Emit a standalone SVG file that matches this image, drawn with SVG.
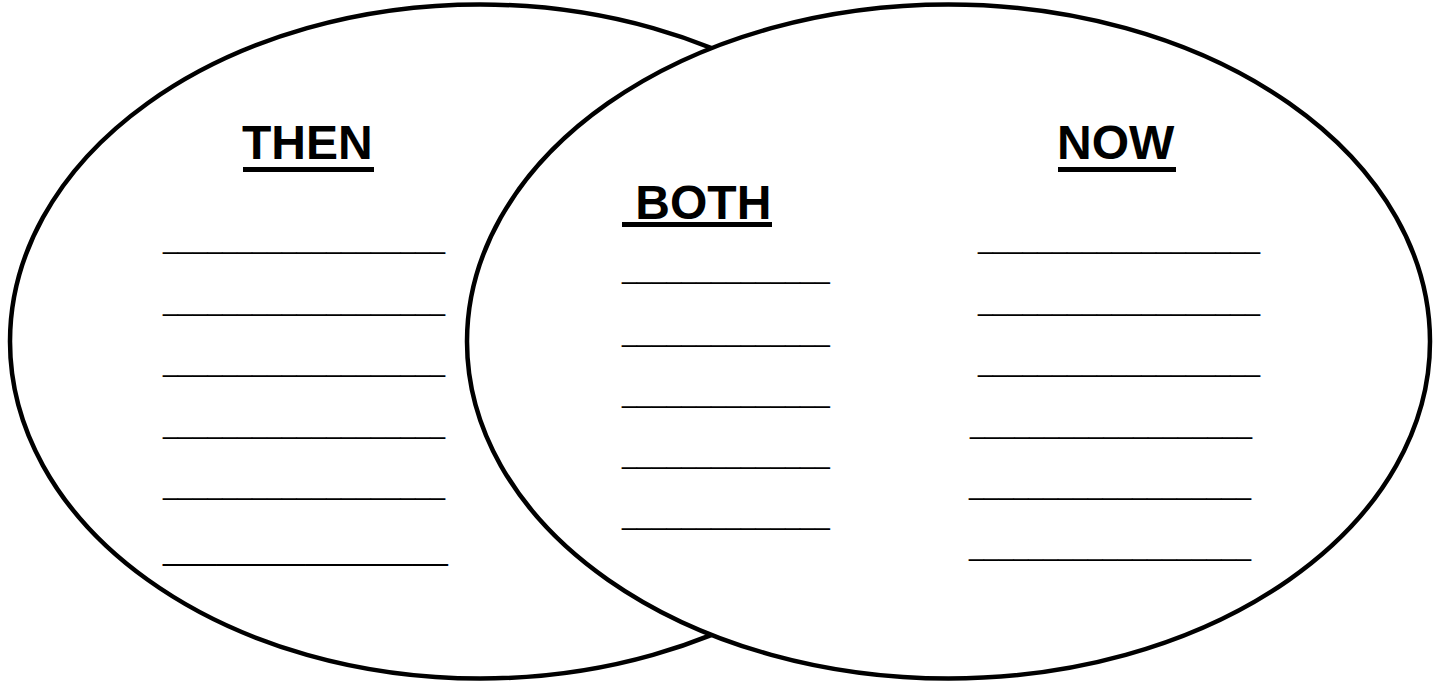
<svg xmlns="http://www.w3.org/2000/svg" width="1437" height="682" viewBox="0 0 1437 682">
<style>
.ell{fill:#fff;stroke:#000;stroke-width:4.5}
.hd{font-family:"Liberation Sans",Arial,sans-serif;font-weight:bold;font-size:48px;fill:#000;white-space:pre}
.ul{fill:#000}
.ln{font-family:"Liberation Sans",Arial,sans-serif;font-size:26.7px;fill:#000}
.lnb{font-family:"Liberation Sans",Arial,sans-serif;font-size:32px;fill:#000}
</style>
<rect width="1437" height="682" fill="#fff"/>
<g id="then-circle">
<ellipse class="ell" cx="480" cy="341.5" rx="470" ry="337"/>
</g>
<g id="now-circle">
<ellipse class="ell" cx="948.5" cy="341.5" rx="481.5" ry="337"/>
</g>
<g id="then">
<text class="hd" x="242" y="159">THEN</text>
<rect class="ul" x="243" y="167" width="131" height="5"/>
<text class="ln" x="163" y="249">___________________</text>
<text class="ln" x="163" y="311">___________________</text>
<text class="ln" x="163" y="372">___________________</text>
<text class="ln" x="163" y="434">___________________</text>
<text class="ln" x="163" y="495">___________________</text>
<text class="lnb" x="163" y="560">________________</text>
</g>
<g id="both">
<text class="hd" x="622" y="219" xml:space="preserve"> BOTH</text>
<rect class="ul" x="622" y="222" width="150" height="5"/>
<text class="ln" x="622" y="279">______________</text>
<text class="ln" x="622" y="342">______________</text>
<text class="ln" x="622" y="403">______________</text>
<text class="ln" x="622" y="464">______________</text>
<text class="ln" x="622" y="525">______________</text>
</g>
<g id="now">
<text class="hd" x="1057" y="159">NOW</text>
<rect class="ul" x="1058" y="167" width="118" height="5"/>
<text class="ln" x="978" y="249">___________________</text>
<text class="ln" x="978" y="311">___________________</text>
<text class="ln" x="978" y="372">___________________</text>
<text class="ln" x="970" y="434">___________________</text>
<text class="ln" x="969" y="495">___________________</text>
<text class="ln" x="969" y="556">___________________</text>
</g>
<g id="connectors"/>
</svg>
